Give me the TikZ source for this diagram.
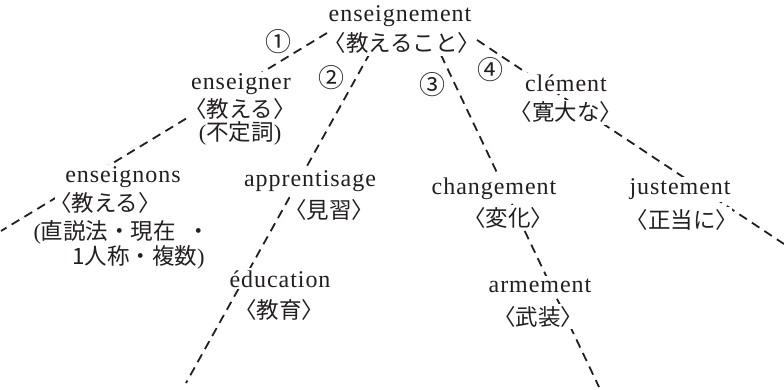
\documentclass[tikz,border=0pt]{standalone}
\usepackage{fontspec}
\setmainfont{Liberation Serif}
\newfontfamily\lat{Liberation Serif}[LetterSpace=4]
\newfontfamily\jp{Noto Sans CJK JP}
\definecolor{ink}{HTML}{231F20}
\tikzset{
  lt/.style={anchor=base, inner xsep=1pt, inner ysep=2pt, fill=white, text=ink, font=\lat\fontsize{24}{27}\selectfont},
  jt/.style={anchor=base, inner xsep=1pt, inner ysep=2pt, fill=white, text=ink, font=\jp\fontsize{22.5}{26}\selectfont},
  jb/.style={jt, inner xsep=-6pt},
  num/.style={inner sep=0pt, text=ink, font=\jp\fontsize{26}{28}\selectfont},
  branch/.style={draw=ink, line width=1.8pt, dash pattern=on 9pt off 6pt}
}
\begin{document}
\begin{tikzpicture}[x=1pt,y=-1pt]
\useasboundingbox (0,0) rectangle (784,390);
% branches (free ends are named coordinates)
\coordinate (l1s) at (327,33);
\coordinate (l1e) at (1,231);
\coordinate (l2s) at (370,53);
\coordinate (l2e) at (186,383);
\coordinate (l3s) at (441,55);
\coordinate (l3e) at (599,387);
\coordinate (l4s) at (477,40);
\coordinate (l4e) at (784,244);
\draw[branch] (l1s) -- (l1e);
\draw[branch] (l2s) -- (l2e);
\draw[branch] (l3s) -- (l3e);
\draw[branch] (l4s) -- (l4e);
% top
\node[lt] (t1) at (400,22) {enseignement};
\node[jb] (t2) at (402,52) {〈教えること〉};
% enseigner
\node[lt] (a1) at (241,90) {enseigner};
\node[jb] (a2) at (240,117.5) {〈教える〉};
\node[jt] (a3) at (240,140.5) {\textrm{(}不定詞\textrm{)}};
% enseignons
\node[lt] (b1) at (123,183) {enseignons};
\node[jb] (b2) at (105,211.5) {〈教える〉};
\node[jt] (b3) at (122,239.5) {\textrm{(}直説法・現在\hspace{12pt}・};
\node[jt] (b4) at (138.5,264.5) {1人称・複数\textrm{)}};
% apprentisage
\node[lt] (c1) at (310,186) {apprentisage};
\node[jb] (c2) at (329,218.5) {〈見習〉};
% education
\node[lt] (d1) at (280,287) {éducation};
\node[jb] (d2) at (279,318.5) {〈教育〉};
% changement
\node[lt] (e1) at (494,195) {changement};
\node[jb] (e2) at (508,226.5) {〈変化〉};
% armement
\node[lt] (f1) at (540,292) {armement};
\node[jb] (f2) at (538,325.5) {〈武装〉};
% clement
\node[lt] (g1) at (566,92) {clément};
\node[jb] (g2) at (566,121) {〈寛大な〉};
% justement
\node[lt] (h1) at (680,195) {justement};
\node[jb] (h2) at (682,228.5) {〈正当に〉};
% numbers
\node[num] (n1) at (278,42) {①};
\node[num] (n2) at (331,78) {②};
\node[num] (n3) at (432,85) {③};
\node[num] (n4) at (490,70) {④};
\end{tikzpicture}
\end{document}
